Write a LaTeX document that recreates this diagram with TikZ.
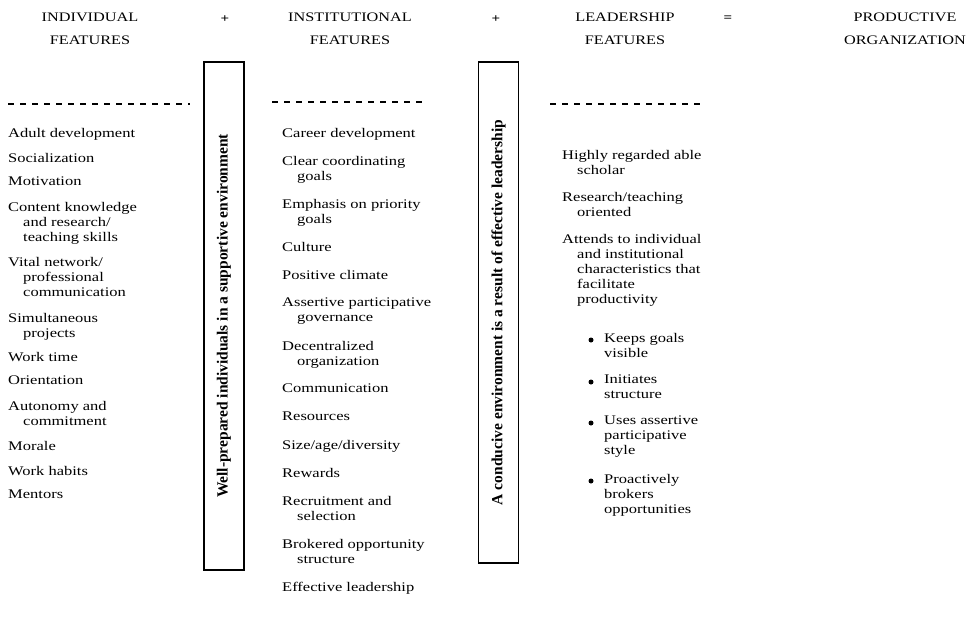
\documentclass[tikz,border=0pt]{standalone}
\usepackage{fontspec}
\setmainfont{Liberation Serif}[FakeStretch=1.25]
\newfontfamily\boxfont{Liberation Serif}
\newcommand{\hind}{\hspace*{15pt}}
\begin{document}
\begin{tikzpicture}[x=1pt,y=-1pt,
  hdr/.style={font=\fontsize{13}{23.5}\selectfont, align=center, inner sep=0},
  opsign/.style={font=\bfseries\fontsize{12}{14}\selectfont, inner sep=0},
  item/.style={font=\fontsize{13.2}{15}\selectfont, align=left, anchor=north west, inner sep=0},
  bul/.style={circle, fill=black, inner sep=0, minimum size=5pt},
  vbox/.style={draw, line width=1.3pt, rotate=90, minimum height=40pt, inner sep=0,
    font=\boxfont\bfseries\fontsize{15.5}{17}\selectfont},
  remnant/.style={line width=1.2pt, dash pattern=on 6pt off 6pt}]
\useasboundingbox (0,0) rectangle (974,630);
\fill[white] (0,0) rectangle (974,630);

% headers
\node[hdr] (h1) at (90,29) {INDIVIDUAL\\FEATURES};
\node[opsign] (p1) at (225,19) {+};
\node[hdr] (h2) at (350,29) {INSTITUTIONAL\\FEATURES};
\node[opsign] (p2) at (496,19) {+};
\node[hdr] (h3) at (625,29) {LEADERSHIP\\FEATURES};
\node[opsign] (p3) at (728,19) {=};
\node[hdr] (h4) at (905,29) {PRODUCTIVE\\ORGANIZATION};

% faint broken lines under headers
\draw[remnant] (8,104) -- (190,104);
\draw[remnant] (272,102) -- (425,102);
\draw[remnant] (550,104) -- (702,104);

% vertical boxes
\node[vbox, minimum width=508pt] (b1) at (224,316) {Well-prepared individuals in a supportive environment};
\node[vbox, minimum width=501pt] (b2) at (498.5,312.5) {A conducive environment is a result of effective leadership};

% individual features
\node[item] (i1) at (8,128) {Adult development};
\node[item] (i2) at (8,153) {Socialization};
\node[item] (i3) at (8,177) {Motivation};
\node[item] (i4) at (8,202) {Content knowledge\\\hind and research/\\\hind teaching skills};
\node[item] (i5) at (8,257) {Vital network/\\\hind professional\\\hind communication};
\node[item] (i6) at (8,313) {Simultaneous\\\hind projects};
\node[item] (i7) at (8,352) {Work time};
\node[item] (i8) at (8,376) {Orientation};
\node[item] (i9) at (8,401) {Autonomy and\\\hind commitment};
\node[item] (i10) at (8,441) {Morale};
\node[item] (i11) at (8,466) {Work habits};
\node[item] (i12) at (8,490) {Mentors};

% institutional features
\node[item] (n1) at (282,128) {Career development};
\node[item] (n2) at (282,156) {Clear coordinating\\\hind goals};
\node[item] (n3) at (282,199) {Emphasis on priority\\\hind goals};
\node[item] (n4) at (282,242) {Culture};
\node[item] (n5) at (282,270) {Positive climate};
\node[item] (n6) at (282,298) {Assertive participative\\\hind governance};
\node[item] (n7) at (282,341) {Decentralized\\\hind organization};
\node[item] (n8) at (282,384) {Communication};
\node[item] (n9) at (282,412) {Resources};
\node[item] (n10) at (282,440) {Size/age/diversity};
\node[item] (n11) at (282,468) {Rewards};
\node[item] (n12) at (282,496) {Recruitment and\\\hind selection};
\node[item] (n13) at (282,539) {Brokered opportunity\\\hind structure};
\node[item] (n14) at (282,582) {Effective leadership};

% leadership features
\node[item] (l1) at (562,150) {Highly regarded able\\\hind scholar};
\node[item] (l2) at (562,192) {Research/teaching\\\hind oriented};
\node[item] (l3) at (562,234) {Attends to individual\\\hind and institutional\\\hind characteristics that\\\hind facilitate\\\hind productivity};
\node[item] (k1) at (604,333) {Keeps goals\\visible};
\node[item] (k2) at (604,375) {Initiates\\structure};
\node[item] (k3) at (604,416) {Uses assertive\\participative\\style};
\node[item] (k4) at (604,474) {Proactively\\brokers\\opportunities};
\node[bul] (d1) at (591,340) {};
\node[bul] (d2) at (591,382) {};
\node[bul] (d3) at (591,423) {};
\node[bul] (d4) at (591,481) {};
\end{tikzpicture}
\end{document}
